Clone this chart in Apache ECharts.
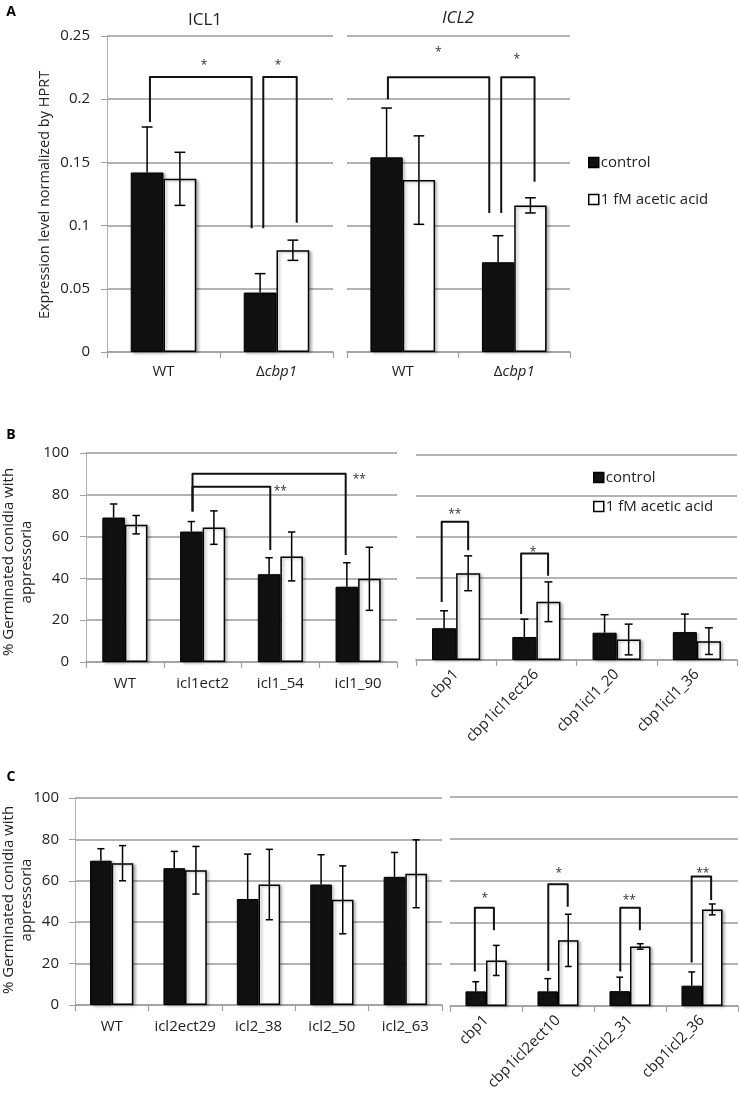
<!DOCTYPE html>
<html><head><meta charset="utf-8">
<script src="https://cdn.jsdelivr.net/npm/echarts@6/dist/echarts.min.js"></script>
<style>html,body{margin:0;padding:0;background:#fff}#c{width:739px;height:1100px}</style>
</head><body><div id="c"></div>
<script>
// ---------- Panel A data ----------
const aCategories = ['WT', 'Δcbp1'];
const aIcl1Control = [0.142, 0.047];
const aIcl1ControlErr = [0.036, 0.015];
const aIcl1Acetic = [0.137, 0.0805];
const aIcl1AceticErr = [0.021, 0.008];
const aIcl2Control = [0.154, 0.071];
const aIcl2ControlErr = [0.039, 0.021];
const aIcl2Acetic = [0.136, 0.116];
const aIcl2AceticErr = [0.035, 0.006];
const aTicks = [0, 0.05, 0.1, 0.15, 0.2, 0.25];

// ---------- Panel B data ----------
const bLeftCategories = ['WT', 'icl1ect2', 'icl1_54', 'icl1_90'];
const bLeftControl = [69.1, 62.4, 42.0, 36.0];
const bLeftControlErr = [6.5, 4.8, 7.9, 11.5];
const bLeftAcetic = [65.7, 64.3, 50.5, 39.8];
const bLeftAceticErr = [4.4, 8.0, 11.7, 15.1];
const bRightCategories = ['cbp1', 'cbp1icl1ect26', 'cbp1icl1_20', 'cbp1icl1_36'];
const bRightControl = [15.5, 11.2, 13.3, 13.6];
const bRightControlErr = [8.5, 8.7, 8.8, 8.8];
const bRightAcetic = [42.3, 28.4, 10.0, 9.2];
const bRightAceticErr = [8.5, 9.7, 7.5, 6.5];

// ---------- Panel C data ----------
const cLeftCategories = ['WT', 'icl2ect29', 'icl2_38', 'icl2_50', 'icl2_63'];
const cLeftControl = [69.7, 66.1, 51.2, 58.2, 61.9];
const cLeftControlErr = [5.8, 8.1, 21.7, 14.4, 11.8];
const cLeftAcetic = [68.5, 65.1, 58.2, 50.8, 63.4];
const cLeftAceticErr = [8.5, 11.5, 17.0, 16.4, 16.4];
const cRightCategories = ['cbp1', 'cbp1icl2ect10', 'cbp1icl2_31', 'cbp1icl2_36'];
const cRightControl = [7.0, 7.0, 7.1, 9.7];
const cRightControlErr = [4.6, 6.1, 6.7, 6.6];
const cRightAcetic = [21.8, 31.4, 28.5, 46.2];
const cRightAceticErr = [7.2, 12.5, 1.3, 2.6];
const pctTicks = [0, 20, 40, 60, 80, 100];

// ---------- Significance brackets: [cat1, off1, cat2, off2, top, leftBottom, rightBottom] ----------
const aIcl1Brackets = [[0, -0.12, 1, -0.22, 0.2176, 0.182, 0.098], [1, -0.117, 1, 0.179, 0.2176, 0.098, 0.1023]];
const aIcl2Brackets = [[0, -0.133, 1, -0.224, 0.2173, 0.200, 0.110], [1, -0.117, 1, 0.182, 0.2173, 0.110, 0.1347]];
const bLeftBrackets = [[1, -0.13, 3, -0.16, 90.1, 72, 51.2], [1, -0.13, 2, -0.13, 83.9, 72, 53.6]];
const bRightBrackets = [[0, -0.18, 0, 0.15, 67.4, 28.3, 53.5], [1, -0.19, 1, 0.146, 52, 22.4, 41.1]];
const cRightBrackets = [[0, -0.155, 0, 0.11, 47.0, 16.5, 36.2], [1, -0.135, 1, 0.135, 58.3, 16.8, 47.5],
                        [2, -0.135, 2, 0.137, 47.0, 16.5, 36.2], [3, -0.144, 3, 0.127, 62.0, 20.8, 50.7]];
// star labels: [cat, off, y, text, align]
const aIcl1Stars = [[0, 0.358, 0.2286, '*', 'center'], [1, 0.013, 0.2286, '*', 'center']];
const aIcl2Stars = [[0, 0.318, 0.239, '*', 'center'], [1, 0.024, 0.234, '*', 'center']];
const bLeftStars = [[3, -0.07, 88.8, '**', 'left'], [2, -0.086, 83.0, '**', 'left']];
const bRightStars = [[0, -0.017, 72.3, '**', 'center'], [1, -0.04, 53.7, '*', 'center']];
const cRightStars = [[0, -0.017, 53.0, '*', 'center'], [1, 0.01, 65.0, '*', 'center'],
                     [2, -0.01, 51.9, '**', 'center'], [3, 0.012, 65.0, '**', 'center']];

const FONT = '"Open Sans", sans-serif';
const FS = 15;
const GRID_COLOR = '#9a9a9a';

const grids = [], xAxes = [], yAxes = [], series = [];

function addPanel(cfg) {
  const gi = grids.length;
  grids.push(cfg.grid);
  xAxes.push({
    type: 'category', gridIndex: gi, data: cfg.cats,
    axisLine: { lineStyle: { color: '#a0a0a0', width: 1.5 } },
    axisTick: { show: true, length: 6, lineStyle: { color: '#a0a0a0', width: 1.2 } },
    axisLabel: {
      fontSize: FS, color: '#222', fontFamily: FONT, margin: cfg.labelMargin || 14,
      rotate: cfg.rotate || 0, interval: 0,
      formatter: v => v.charAt(0) === 'Δ' ? '{n|Δ}{i|' + v.slice(1) + '}' : v,
      rich: { n: { fontSize: FS, fontFamily: FONT, color: '#222' },
              i: { fontSize: FS, fontFamily: FONT, color: '#222', fontStyle: 'italic' } }
    }
  });
  yAxes.push({
    type: 'value', gridIndex: gi, min: cfg.ticks[0], max: cfg.ticks[cfg.ticks.length - 1],
    interval: cfg.ticks[1] - cfg.ticks[0],
    splitLine: { lineStyle: { color: GRID_COLOR, width: 1.5 } },
    axisLine: { show: cfg.showY, lineStyle: { color: '#b0b0b0', width: 1 } },
    axisTick: { show: cfg.showY, length: 6, lineStyle: { color: '#a0a0a0' } },
    axisLabel: { show: cfg.showY, fontSize: FS, color: '#222', fontFamily: FONT, margin: cfg.yMargin || 16 }
  });
  const gap = cfg.gap;
  const shadow = { shadowBlur: 3, shadowOffsetX: 2, shadowOffsetY: 1, shadowColor: 'rgba(0,0,0,0.3)' };
  series.push({
    name: 'control', type: 'bar', xAxisIndex: gi, yAxisIndex: gi, data: cfg.ctrl,
    barGap: '0%', barCategoryGap: (gap * 100) + '%',
    itemStyle: Object.assign({ color: '#111', borderColor: '#000', borderWidth: 1 }, shadow)
  });
  series.push({
    name: '1 fM acetic acid', type: 'bar', xAxisIndex: gi, yAxisIndex: gi, data: cfg.acet,
    barGap: '0%', barCategoryGap: (gap * 100) + '%',
    itemStyle: Object.assign({ color: '#fff', borderColor: '#000', borderWidth: 1.5 }, shadow)
  });
  const errData = cfg.ctrl.map((v, i) => [i, v, cfg.ctrlErr[i], 0])
    .concat(cfg.acet.map((v, i) => [i, v, cfg.acetErr[i], 1]));
  series.push({
    type: 'custom', xAxisIndex: gi, yAxisIndex: gi, z: 5, silent: true,
    encode: { x: 0, y: 1 }, data: errData,
    renderItem: (params, api) => {
      const cat = api.value(0), v = api.value(1), e = api.value(2), s = api.value(3);
      const band = api.size([1, 0])[0];
      const bw = band * (1 - gap) / 2;
      const x = api.coord([cat, v])[0] + (s === 0 ? -bw / 2 : bw / 2);
      const yt = api.coord([cat, v + e])[1];
      const yv = api.coord([cat, v])[1];
      const yb = api.coord([cat, Math.max(0, v - e)])[1];
      const cap = bw * 0.33;
      const st = { stroke: '#000', lineWidth: 1.5 };
      const kids = [
        { type: 'line', shape: { x1: x, y1: yt, x2: x, y2: s === 0 ? yv : yb }, style: st },
        { type: 'line', shape: { x1: x - cap / 2, y1: yt, x2: x + cap / 2, y2: yt }, style: st }
      ];
      if (s === 1) kids.push({ type: 'line', shape: { x1: x - cap / 2, y1: yb, x2: x + cap / 2, y2: yb }, style: st });
      return { type: 'group', children: kids };
    }
  });
  if (cfg.brackets) {
    const br = cfg.brackets;
    series.push({
      type: 'custom', xAxisIndex: gi, yAxisIndex: gi, z: 6, silent: true,
      encode: { x: 0, y: 1 }, data: br.map(b => [b[0], b[4]]),
      renderItem: (params, api) => {
        const b = br[params.dataIndex];
        const band = api.size([1, 0])[0];
        const x1 = api.coord([b[0], b[4]])[0] + b[1] * band;
        const x2 = api.coord([b[2], b[4]])[0] + b[3] * band;
        const yT = api.coord([b[0], b[4]])[1];
        const yL = api.coord([b[0], b[5]])[1];
        const yR = api.coord([b[2], b[6]])[1];
        return { type: 'polyline', shape: { points: [[x1, yL], [x1, yT], [x2, yT], [x2, yR]] },
                 style: { stroke: '#111', lineWidth: 2, fill: null, lineJoin: 'round' } };
      }
    });
  }
  if (cfg.stars) {
    const sr = cfg.stars;
    series.push({
      type: 'custom', xAxisIndex: gi, yAxisIndex: gi, z: 7, silent: true,
      encode: { x: 0, y: 1 }, data: sr.map(s => [s[0], s[2]]),
      renderItem: (params, api) => {
        const s = sr[params.dataIndex];
        const band = api.size([1, 0])[0];
        const p = api.coord([s[0], s[2]]);
        return { type: 'text', x: p[0] + s[1] * band, y: p[1] + 3,
                 style: { text: s[3], font: '12px ' + FONT, fill: '#333', align: s[4], verticalAlign: 'middle' } };
      }
    });
  }
}

addPanel({ grid: { left: 107, top: 36, width: 226, height: 316 }, cats: aCategories, ticks: aTicks, showY: true,
  ctrl: aIcl1Control, ctrlErr: aIcl1ControlErr, acet: aIcl1Acetic, acetErr: aIcl1AceticErr, gap: 0.42,
  brackets: aIcl1Brackets, stars: aIcl1Stars, labelMargin: 12, yMargin: 17 });
addPanel({ grid: { left: 347, top: 36, width: 223, height: 316 }, cats: aCategories, ticks: aTicks, showY: false,
  ctrl: aIcl2Control, ctrlErr: aIcl2ControlErr, acet: aIcl2Acetic, acetErr: aIcl2AceticErr, gap: 0.42,
  brackets: aIcl2Brackets, stars: aIcl2Stars, labelMargin: 12 });
addPanel({ grid: { left: 86, top: 453, width: 311, height: 209 }, cats: bLeftCategories, ticks: pctTicks, showY: true,
  ctrl: bLeftControl, ctrlErr: bLeftControlErr, acet: bLeftAcetic, acetErr: bLeftAceticErr, gap: 0.42,
  brackets: bLeftBrackets, stars: bLeftStars, labelMargin: 14, yMargin: 17 });
addPanel({ grid: { left: 416, top: 455, width: 321, height: 205 }, cats: bRightCategories, ticks: pctTicks, showY: false,
  ctrl: bRightControl, ctrlErr: bRightControlErr, acet: bRightAcetic, acetErr: bRightAceticErr, gap: 0.40,
  brackets: bRightBrackets, stars: bRightStars, rotate: 45, labelMargin: 12 });
addPanel({ grid: { left: 75, top: 798, width: 367, height: 207 }, cats: cLeftCategories, ticks: pctTicks, showY: true,
  ctrl: cLeftControl, ctrlErr: cLeftControlErr, acet: cLeftAcetic, acetErr: cLeftAceticErr, gap: 0.41,
  labelMargin: 14, yMargin: 16 });
addPanel({ grid: { left: 450, top: 797, width: 288, height: 209 }, cats: cRightCategories, ticks: pctTicks, showY: false,
  ctrl: cRightControl, ctrlErr: cRightControlErr, acet: cRightAcetic, acetErr: cRightAceticErr, gap: 0.43,
  brackets: cRightBrackets, stars: cRightStars, rotate: 45, labelMargin: 12 });

const legendBase = {
  data: ['control', '1 fM acetic acid'], orient: 'vertical', icon: 'rect',
  itemWidth: 10, itemHeight: 10, selectedMode: false,
  itemStyle: { shadowBlur: 0, shadowOffsetX: 0, shadowOffsetY: 0, borderWidth: 1.5 },
  textStyle: { fontSize: FS, color: '#222', fontFamily: FONT, padding: [0, 0, 0, -3] }
};

const txt = (text, x, y, extra) => ({ type: 'text', x, y, style: Object.assign({ text, fill: '#222', font: FS + 'px ' + FONT, align: 'center', verticalAlign: 'middle' }, extra || {}) });

const option = {
  animation: false,
  backgroundColor: '#fff',
  grid: grids, xAxis: xAxes, yAxis: yAxes, series,
  legend: [
    Object.assign({}, legendBase, { left: 583, top: 150, itemGap: 22 }),
    Object.assign({}, legendBase, { left: 588, top: 465, itemGap: 14 })
  ],
  graphic: [
    txt('A', 11, 12, { font: 'bold 14px ' + FONT, fill: '#000' }),
    txt('B', 11, 435, { font: 'bold 14px ' + FONT, fill: '#000' }),
    txt('C', 11, 777, { font: 'bold 14px ' + FONT, fill: '#000' }),
    txt('ICL1', 205, 20, { font: '17px ' + FONT }),
    txt('ICL2', 458, 18, { font: 'italic 17px ' + FONT }),
    Object.assign(txt('Expression level normalized by HPRT', 45, 195, { font: '14.5px ' + FONT }), { rotation: Math.PI / 2 }),
    Object.assign(txt('% Germinated conidia with\nappressoria', 18, 562, { font: '15px ' + FONT, lineHeight: 18 }), { rotation: Math.PI / 2 }),
    Object.assign(txt('% Germinated conidia with\nappressoria', 18, 900, { font: '15px ' + FONT, lineHeight: 18 }), { rotation: Math.PI / 2 })
  ]
};

const chart = echarts.init(document.getElementById('c'), null, { renderer: 'canvas' });
chart.setOption(option);
</script>
</body></html>
